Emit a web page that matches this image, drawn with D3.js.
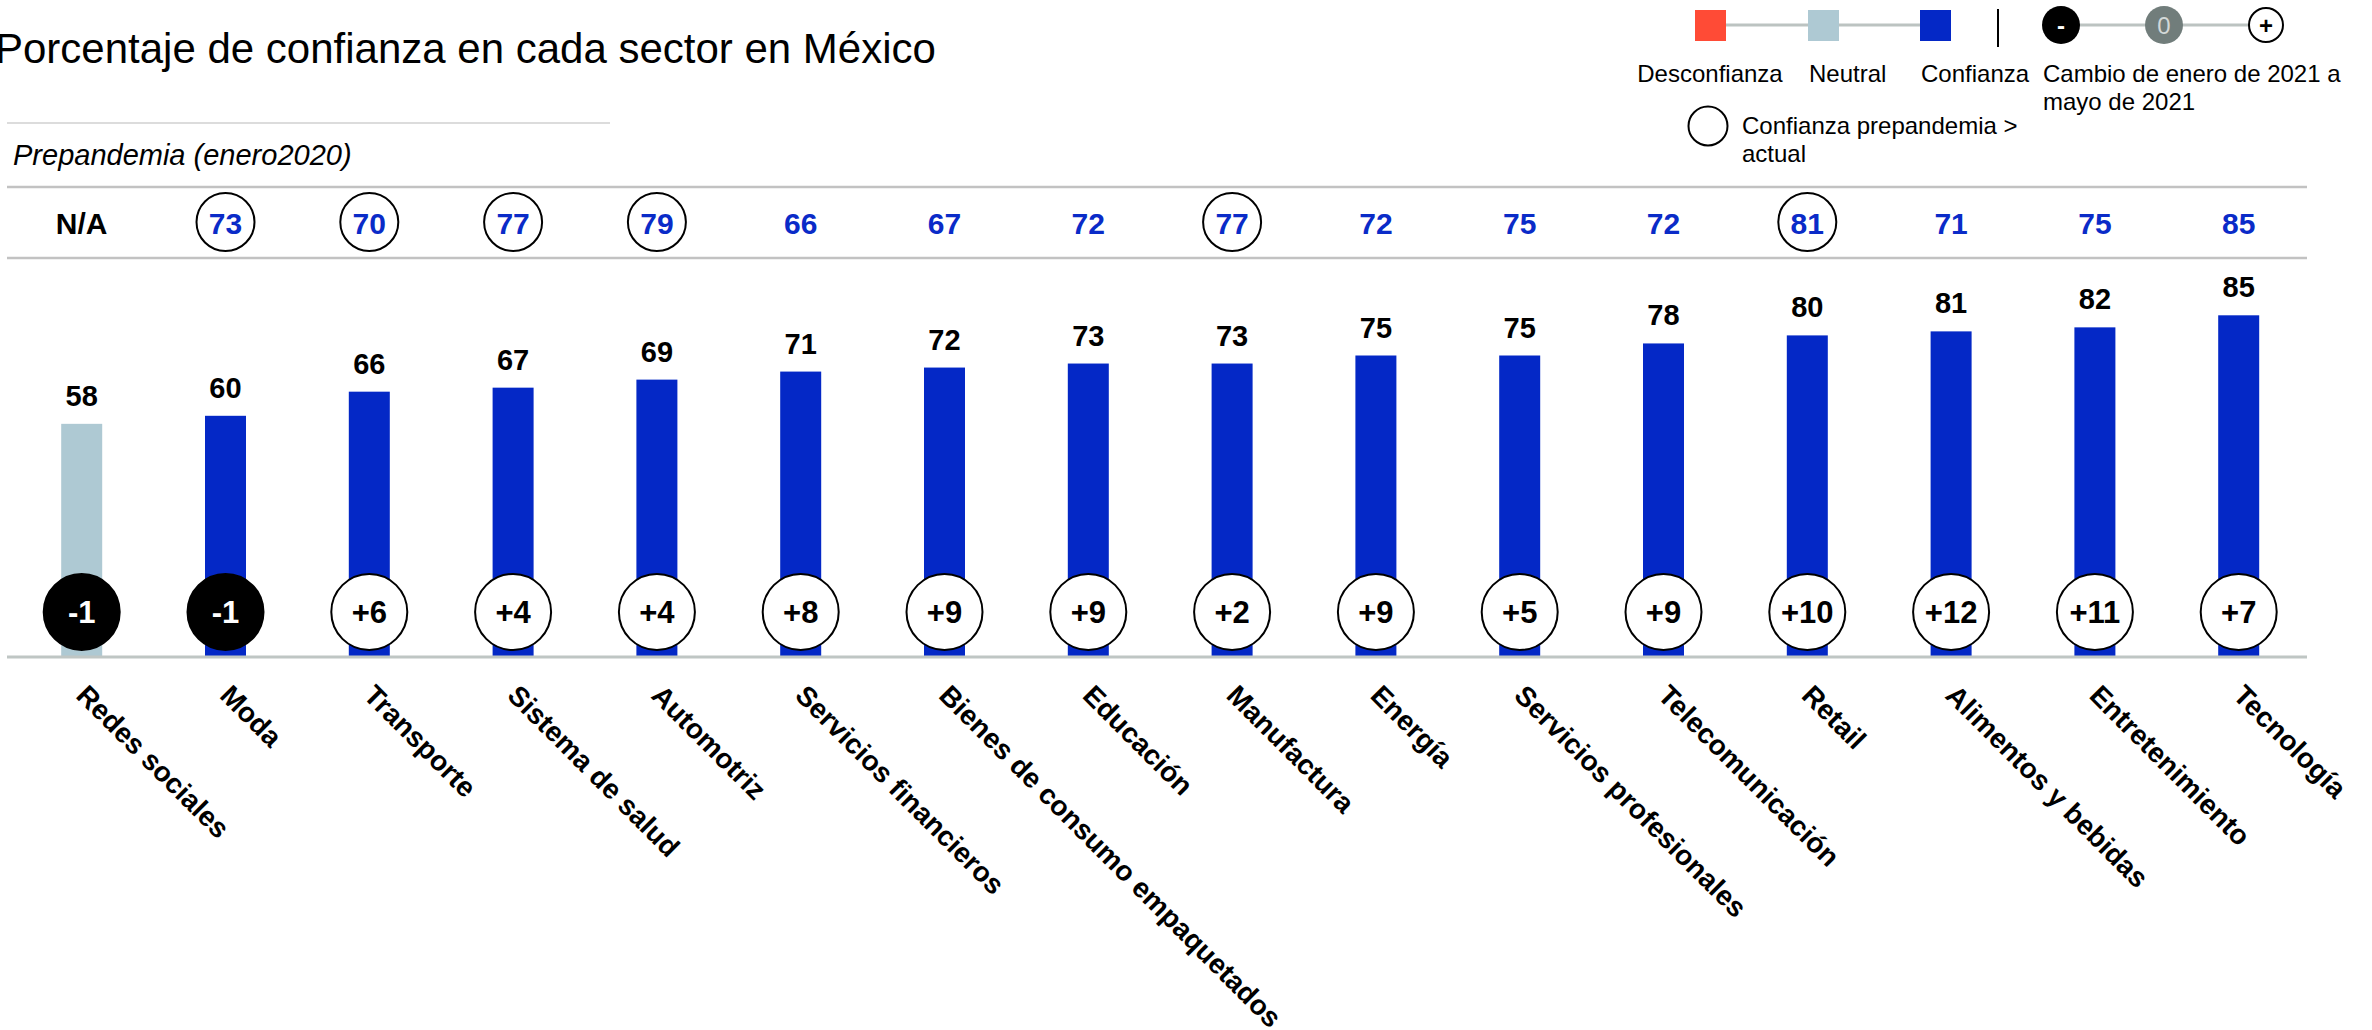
<!DOCTYPE html>
<html>
<head>
<meta charset="utf-8">
<script src="https://cdn.jsdelivr.net/npm/d3@7"></script>
<style>
  body { margin: 0; background: #fff; }
  text { font-family: "Liberation Sans", Arial, sans-serif; }
</style>
</head>
<body>
<div id="chart-area"></div>
<script>
// data
var sectores = ["Redes sociales", "Moda", "Transporte", "Sistema de salud", "Automotriz",
    "Servicios financieros", "Bienes de consumo empaquetados", "Educación", "Manufactura",
    "Energía", "Servicios profesionales", "Telecomunicación", "Retail", "Alimentos y bebidas",
    "Entretenimiento", "Tecnología"];
var confianza = [58, 60, 66, 67, 69, 71, 72, 73, 73, 75, 75, 78, 80, 81, 82, 85];
var prepandemia = [null, 73, 70, 77, 79, 66, 67, 72, 77, 72, 75, 72, 81, 71, 75, 85];
var cambio = [-1, -1, 6, 4, 4, 8, 9, 9, 2, 9, 5, 9, 10, 12, 11, 7];
var nivel = ["Neutral", "Confianza", "Confianza", "Confianza", "Confianza", "Confianza",
    "Confianza", "Confianza", "Confianza", "Confianza", "Confianza", "Confianza",
    "Confianza", "Confianza", "Confianza", "Confianza"];
var niveles = ["Desconfianza", "Neutral", "Confianza"];

var colores = { "Desconfianza": "#ff4b36", "Neutral": "#aec9d3", "Confianza": "#0428c6" };
var azulTexto = "#0a2bc8";

var width = 2372, height = 1030;

var svg = d3.select("#chart-area")
    .append("svg")
    .attr("width", width)
    .attr("height", height);

var x = d3.scalePoint()
    .domain(sectores)
    .range([81.7, 2238.7]);
var barW = 41;

var y = d3.scaleLinear()
    .domain([0, 100])
    .range([657, 255]);

var data = sectores.map(function (s, i) {
    return { sector: s, valor: confianza[i], pre: prepandemia[i], cambio: cambio[i], nivel: nivel[i] };
});

// title
svg.append("text")
    .attr("x", -5).attr("y", 63)
    .attr("font-size", 42)
    .text("Porcentaje de confianza en cada sector en México");

svg.append("line")
    .attr("x1", 7).attr("x2", 610).attr("y1", 123).attr("y2", 123)
    .attr("stroke", "#dcdcdc").attr("stroke-width", 2);

svg.append("text")
    .attr("x", 13).attr("y", 165)
    .attr("font-size", 29)
    .attr("font-style", "italic")
    .text("Prepandemia (enero2020)");

// prepandemia row
[187, 258].forEach(function (ly) {
    svg.append("line")
        .attr("x1", 7).attr("x2", 2307).attr("y1", ly).attr("y2", ly)
        .attr("stroke", "#c2c2c2").attr("stroke-width", 2.5);
});

svg.selectAll(".pre-circle")
    .data(data.filter(function (d) { return d.pre !== null && d.pre > d.valor; }))
    .enter()
    .append("circle")
    .attr("class", "pre-circle")
    .attr("cx", function (d) { return x(d.sector); })
    .attr("cy", 222)
    .attr("r", 29)
    .attr("fill", "none")
    .attr("stroke", "#000")
    .attr("stroke-width", 2);

svg.selectAll(".pre-text")
    .data(data)
    .enter()
    .append("text")
    .attr("class", "pre-text")
    .attr("x", function (d) { return x(d.sector); })
    .attr("y", 223)
    .attr("dy", "0.36em")
    .attr("text-anchor", "middle")
    .attr("font-size", 30)
    .attr("font-weight", "bold")
    .attr("fill", function (d) { return d.pre === null ? "#000" : azulTexto; })
    .text(function (d) { return d.pre === null ? "N/A" : d.pre; });

// bars
svg.selectAll(".bar")
    .data(data)
    .enter()
    .append("rect")
    .attr("class", "bar")
    .attr("x", function (d) { return x(d.sector) - barW / 2; })
    .attr("y", function (d) { return y(d.valor); })
    .attr("width", barW)
    .attr("height", function (d) { return y(0) - y(d.valor); })
    .attr("fill", function (d) { return colores[d.nivel]; });

svg.append("line")
    .attr("x1", 7).attr("x2", 2307).attr("y1", y(0)).attr("y2", y(0))
    .attr("stroke", "#bfc6c4").attr("stroke-width", 3);

svg.selectAll(".val")
    .data(data)
    .enter()
    .append("text")
    .attr("class", "val")
    .attr("x", function (d) { return x(d.sector); })
    .attr("y", function (d) { return y(d.valor) - 18; })
    .attr("text-anchor", "middle")
    .attr("font-size", 29)
    .attr("font-weight", "bold")
    .text(function (d) { return d.valor; });

// change circles
var cambioG = svg.selectAll(".cambio")
    .data(data)
    .enter()
    .append("g")
    .attr("class", "cambio")
    .attr("transform", function (d) { return "translate(" + x(d.sector) + ",612)"; });

cambioG.append("circle")
    .attr("r", 38)
    .attr("fill", function (d) { return d.cambio < 0 ? "#000" : "#fff"; })
    .attr("stroke", "#000")
    .attr("stroke-width", 2);

cambioG.append("text")
    .attr("text-anchor", "middle")
    .attr("dy", "0.36em")
    .attr("font-size", 31)
    .attr("font-weight", "bold")
    .attr("fill", function (d) { return d.cambio < 0 ? "#fff" : "#000"; })
    .text(function (d) { return (d.cambio > 0 ? "+" : "") + d.cambio; });

// category labels
svg.selectAll(".cat")
    .data(data)
    .enter()
    .append("text")
    .attr("class", "cat")
    .attr("transform", function (d) { return "translate(" + (x(d.sector) - 7) + ",697) rotate(45)"; })
    .attr("font-size", 28)
    .attr("font-weight", "bold")
    .text(function (d) { return d.sector; });

// legend
var legX = [1695, 1808, 1920];
var legLabelX = [1710, 1809, 1921];
var legAnchor = ["middle", "start", "start"];

svg.append("line")
    .attr("x1", legX[0] + 15).attr("x2", legX[2] + 15).attr("y1", 25).attr("y2", 25)
    .attr("stroke", "#bcc3c1").attr("stroke-width", 3);

niveles.forEach(function (n, i) {
    svg.append("rect")
        .attr("x", legX[i]).attr("y", 10)
        .attr("width", 31).attr("height", 31)
        .attr("fill", colores[n]);
    svg.append("text")
        .attr("x", legLabelX[i]).attr("y", 82)
        .attr("text-anchor", legAnchor[i])
        .attr("font-size", 24)
        .text(n);
});

svg.append("line")
    .attr("x1", 1998).attr("x2", 1998).attr("y1", 9).attr("y2", 47)
    .attr("stroke", "#000").attr("stroke-width", 2);

var signos = ["-", "0", "+"];
var signoX = [2061, 2164, 2266];
var signoR = [19, 19, 17];
var signoFill = ["#000", "#717d7b", "#fff"];
var signoText = ["#fff", "#d3d8d7", "#000"];

svg.append("line")
    .attr("x1", signoX[0]).attr("x2", signoX[2]).attr("y1", 25).attr("y2", 25)
    .attr("stroke", "#bcc3c1").attr("stroke-width", 3);

signos.forEach(function (s, i) {
    svg.append("circle")
        .attr("cx", signoX[i]).attr("cy", 25).attr("r", signoR[i])
        .attr("fill", signoFill[i])
        .attr("stroke", i === 2 ? "#000" : "none")
        .attr("stroke-width", 2);
    svg.append("text")
        .attr("x", signoX[i]).attr("y", 25)
        .attr("dy", "0.36em")
        .attr("text-anchor", "middle")
        .attr("font-size", 24)
        .attr("font-weight", i === 1 ? "normal" : "bold")
        .attr("fill", signoText[i])
        .text(s);
});

svg.append("text")
    .attr("x", 2043).attr("y", 82)
    .attr("font-size", 24)
    .text("Cambio de enero de 2021 a");
svg.append("text")
    .attr("x", 2043).attr("y", 110)
    .attr("font-size", 24)
    .text("mayo de 2021");

svg.append("circle")
    .attr("cx", 1708).attr("cy", 126).attr("r", 19.5)
    .attr("fill", "none")
    .attr("stroke", "#000").attr("stroke-width", 2);
svg.append("text")
    .attr("x", 1742).attr("y", 134)
    .attr("font-size", 24)
    .text("Confianza prepandemia >");
svg.append("text")
    .attr("x", 1742).attr("y", 162)
    .attr("font-size", 24)
    .text("actual");
</script>
</body>
</html>
